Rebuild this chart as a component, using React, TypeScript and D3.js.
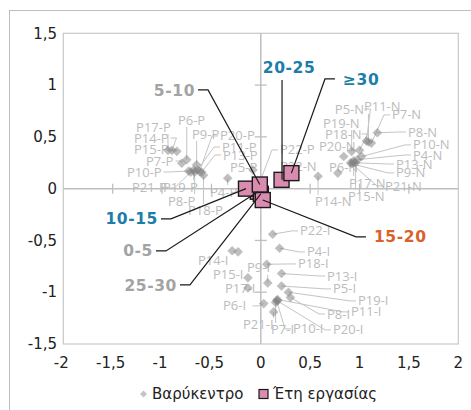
import React from "react";
import * as d3 from "d3";

// ---- Data ----
const pNames = ["P17-P","P14-P","P15-P","P6-P","P7-P","P9-P","P20-P","P11-P","P13-P","P10-P","P5-P","P21-P","P19-P","P4-P","P8-P","P18-P","P22-P"];
const pX = [-0.94,-0.9,-0.85,-0.75,-0.8,-0.65,-0.62,-0.64,-0.6,-0.73,-0.08,-0.71,-0.68,-0.335,-0.67,-0.58,-0.03];
const pY = [0.37,0.37,0.36,0.28,0.245,0.23,0.165,0.18,0.16,0.17,0.18,0.16,0.18,0.1,0.16,0.13,0.01];
const pLabelX = [-1.263,-1.284,-1.284,-0.839,-1.163,-0.697,-0.413,-0.393,-0.383,-1.355,-0.312,-1.304,-0.99,-0.514,-0.94,-0.737,0.194];
const pLabelY = [0.595,0.489,0.374,0.663,0.267,0.528,0.509,0.402,0.325,0.161,0.209,0.007,0.016,-0.032,-0.119,-0.215,0.374];

const nNames = ["P5-N","P11-N","P7-N","P19-N","P8-N","P18-N","P10-N","P20-N","P4-N","P13-N","P6-N","P9-N","P22-N","P17-N","P21-N","P15-N","P14-N"];
const nX = [1.07,1.09,1.12,0.92,1.18,1.0,1.02,0.84,0.98,0.94,0.78,0.92,0.31,0.94,0.91,0.96,0.58];
const nY = [0.46,0.45,0.44,0.36,0.54,0.37,0.31,0.31,0.28,0.25,0.15,0.24,0.15,0.27,0.25,0.25,0.12];
const nLabelX = [0.75,1.044,1.328,0.63,1.49,0.65,1.541,0.589,1.541,1.369,0.69,1.369,0.194,0.893,1.258,0.883,0.549];
const nLabelY = [0.769,0.789,0.712,0.634,0.547,0.528,0.422,0.412,0.325,0.238,0.209,0.152,0.219,0.055,0.026,-0.08,-0.128];

const iNames = ["P22-I","P4-I","P14-I","P18-I","P9-I","P15-I","P13-I","P5-I","P17-I","P19-I","P6-I","P8-I","P11-I","P21-I","P7-I","P10-I","P20-I"];
const iX = [0.12,0.19,-0.29,0.06,0.07,-0.13,0.21,0.21,-0.13,0.28,0.03,0.3,0.17,0.13,0.15,0.16,0.17];
const iY = [-0.44,-0.575,-0.6,-0.73,-0.91,-0.86,-0.82,-0.94,-0.96,-1.0,-1.11,-1.05,-1.07,-1.19,-1.1,-1.08,-1.085];
const iLabelX = [0.397,0.468,-0.636,0.377,-0.14,-0.484,0.67,0.731,-0.363,0.984,-0.383,0.67,0.913,-0.18,0.103,0.326,0.731];
const iLabelY = [-0.408,-0.611,-0.689,-0.727,-0.765,-0.833,-0.843,-0.968,-0.968,-1.084,-1.132,-1.21,-1.19,-1.316,-1.364,-1.354,-1.364];
const extraCentroidX = [-0.23];
const extraCentroidY = [-0.61];

const ageGroups = ["0-5","5-10","10-15","15-20","20-25","25-30","≥30"];
const ageX = [-0.03,-0.01,-0.15,0.02,0.21,0.0,0.31];
const ageY = [-0.03,0.04,0.0,-0.11,0.085,-0.05,0.15];
const ageLabelX = [-1.092,-0.666,-1.041,1.146,0.286,-0.849,0.832];
const ageLabelY = [-0.601,0.953,-0.292,-0.466,1.175,-0.93,1.059];
const ageLabelSide = ["end","end","end","start","middle","end","start"];
const ageColors = ["#a3a3a3","#a3a3a3","#1b7da8","#d9622b","#1b7da8","#a3a3a3","#1b7da8"];
const ageDrawOrder = [0,5,2,3,1,4,6];

const xTicks = [-2,-1.5,-1,-0.5,0,0.5,1,1.5,2];
const yTicks = [1.5,1,0.5,0,-0.5,-1,-1.5];
const legendLabels = ["Βαρύκεντρο","Έτη εργασίας"];

const W = 471, H = 410;
const L = 63.3, R = 458.3, T = 33.3, B = 344;
const fmt = (v: number) => String(v).replace(".", ",");
const baseFont = "'DejaVu Sans', sans-serif";
const ptFont = "'Open Sans', sans-serif";

export default function App() {
  const x = d3.scaleLinear().domain([-2, 2]).range([L, R]);
  const y = d3.scaleLinear().domain([-1.5, 1.5]).range([B, T]);

  const groups = [
    { names: pNames, xs: pX, ys: pY, lx: pLabelX, ly: pLabelY },
    { names: nNames, xs: nX, ys: nY, lx: nLabelX, ly: nLabelY },
    { names: iNames, xs: iX, ys: iY, lx: iLabelX, ly: iLabelY },
  ];

  const diamond = (cx: number, cy: number, r: number) =>
    `M${cx},${cy - r}L${cx + r},${cy}L${cx},${cy + r}L${cx - r},${cy}Z`;

  const leaders: JSX.Element[] = [];
  const labels: JSX.Element[] = [];
  const marks: JSX.Element[] = [];
  groups.forEach((g, gi) => {
    g.names.forEach((name, i) => {
      const px = x(g.xs[i]), py = y(g.ys[i]);
      const lx = x(g.lx[i]), ly = y(g.ly[i]);
      const w = name.length * 6.9;
      const left = lx, right = lx + w, top = ly - 7, bottom = ly + 7;
      const inside = px >= left - 4 && px <= right + 4 && py >= top - 4 && py <= bottom + 4;
      if (!inside) {
        let sx: number, sy: number, ex: number;
        if (px < left) { sx = left - 2; ex = sx - 6; sy = ly; }
        else if (px > right) { sx = right + 2; ex = sx + 6; sy = ly; }
        else { sx = px; ex = px; sy = py < top ? top : bottom; }
        leaders.push(
          <path key={`ld${gi}-${i}`} d={`M${sx},${sy}L${ex},${sy}L${px},${py}`} fill="none" stroke="#c4c4c4" strokeWidth={1} />
        );
      }
      labels.push(
        <text key={`lb${gi}-${i}`} x={lx} y={ly} dy="0.35em" fontFamily={ptFont} fontSize={13} fill="#bcbcbc">{name}</text>
      );
      marks.push(<path key={`mk${gi}-${i}`} d={diamond(px, py, 4.8)} fill="#7f7f7f" fillOpacity={0.5} />);
    });
  });
  extraCentroidX.forEach((v, i) => {
    marks.push(<path key={`ex${i}`} d={diamond(x(v), y(extraCentroidY[i]), 4.8)} fill="#7f7f7f" fillOpacity={0.5} />);
  });

  const sq = 15;
  const ageLeaders = ageGroups.map((g, i) => {
    const px = x(ageX[i]), py = y(ageY[i]);
    const lx = x(ageLabelX[i]), ly = y(ageLabelY[i]);
    let d: string;
    if (ageLabelSide[i] === "end") d = `M${lx + 3},${ly}L${lx + 13},${ly}L${px},${py}`;
    else if (ageLabelSide[i] === "start") d = `M${lx - 8},${ly}L${lx - 18},${ly}L${px},${py}`;
    else d = `M${lx - 7},${ly + 13}L${lx - 7},${py}`;
    return <path key={`al${i}`} d={d} fill="none" stroke="#1a1a1a" strokeWidth={1.2} />;
  });

  return (
    <svg width={W} height={H} style={{ position: "absolute", left: 0, top: 0, background: "#fff" }}>
      <rect x={9.5} y={10.5} width={470} height={410} fill="#fff" stroke="#bdbdbd" strokeWidth={1} />
      <rect x={L} y={T} width={R - L} height={B - T} fill="none" stroke="#c8c8c8" strokeWidth={1.2} />
      {/* zero axes */}
      <line x1={L} x2={R} y1={y(0)} y2={y(0)} stroke="#bfbfbf" strokeWidth={1.5} />
      <line x1={x(0)} x2={x(0)} y1={T} y2={B} stroke="#bfbfbf" strokeWidth={1.5} />
      {xTicks.filter(v => v !== 0 && Math.abs(v) !== 2).map(v => (
        <line key={`xt${v}`} x1={x(v)} x2={x(v)} y1={y(0) - 5} y2={y(0) + 5} stroke="#bfbfbf" strokeWidth={1.3} />
      ))}
      {yTicks.filter(v => v !== 0 && Math.abs(v) !== 1.5).map(v => (
        <line key={`yt${v}`} x1={x(0) - 6} x2={x(0) + 6} y1={y(v)} y2={y(v)} stroke="#bfbfbf" strokeWidth={1.3} />
      ))}
      {xTicks.map(v => (
        <text key={`xl${v}`} x={x(v) + (v < 0 ? -2 : 0)} y={B + 19} dy="0.35em" textAnchor="middle" fontFamily={baseFont} fontSize={15} fill="#222">{fmt(v)}</text>
      ))}
      {yTicks.map(v => (
        <text key={`yl${v}`} x={57} y={y(v)} dy="0.35em" textAnchor="end" fontFamily={baseFont} fontSize={15} fill="#222">{fmt(v)}</text>
      ))}
      <g>{leaders}</g>
      <g>{labels}</g>
      <g>{marks}</g>
      <g>
        {ageDrawOrder.map(i => (
          <rect key={`sq${i}`} x={x(ageX[i]) - sq / 2} y={y(ageY[i]) - sq / 2} width={sq} height={sq} fill="#d98bb0" stroke="#1a1a1a" strokeWidth={1.4} />
        ))}
      </g>
      <g>{ageLeaders}</g>
      {ageGroups.map((g, i) => (
        <text key={`at${i}`} x={x(ageLabelX[i])} y={y(ageLabelY[i])} dy="0.36em" textAnchor={ageLabelSide[i] as any}
          fontFamily={baseFont} fontWeight="bold" fontSize={15.5} letterSpacing={0.6} fill={ageColors[i]}>{g}</text>
      ))}
      {/* legend */}
      <g>
        <path d={diamond(143.5, 394, 3.5)} fill="#c4c4c4" />
        <text x={152} y={394} dy="0.35em" fontFamily={baseFont} fontSize={15} fill="#222">{legendLabels[0]}</text>
        <rect x={259} y={389.5} width={9} height={9} fill="#d98bb0" stroke="#1a1a1a" strokeWidth={1.2} />
        <text x={273} y={394} dy="0.35em" fontFamily={baseFont} fontSize={15} fill="#222">{legendLabels[1]}</text>
      </g>
    </svg>
  );
}
